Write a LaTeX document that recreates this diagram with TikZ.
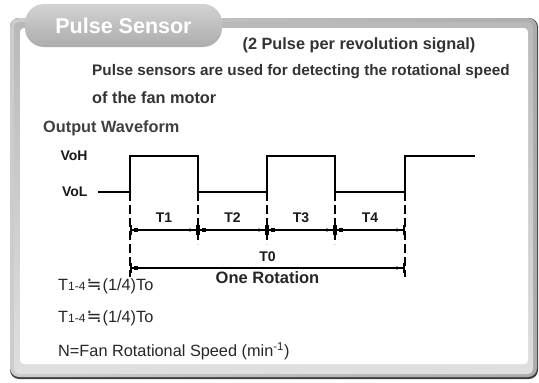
\documentclass[tikz,border=0pt]{standalone}
\usepackage{fontspec}
\setmainfont{Liberation Sans}
\newfontfamily\symfont{DejaVu Sans}
\usetikzlibrary{arrows.meta,positioning}

\tikzset{
  wave/.style={line width=2pt, line join=miter},
  guide/.style={line width=2pt, dash pattern=on 9pt off 4pt},
  span/.style={line width=1.4pt,
    {Bar[width=10pt,line width=2pt] Square[length=3.5pt,width=3.5pt,sep=2pt]}-{Latex[length=4.5pt,width=4pt,sep=2pt] Bar[width=10pt,line width=2pt]}},
  lbl/.style={font=\bfseries\fontsize{14}{16}\selectfont, text=black!90},
  head/.style={font=\bfseries\fontsize{16.3}{18}\selectfont, text=black!80},
  note/.style={font=\fontsize{16.3}{18}\selectfont, text=black!85, anchor=west, inner sep=0pt},
}
\newcommand{\approxrel}{T{\fontsize{12}{14}\selectfont 1-4}\kern1pt{\symfont\fontsize{18}{18}\selectfont\char"2252}\kern1pt(1/4)To}

\begin{document}
\begin{tikzpicture}[x=1pt,y=-1pt]
  \useasboundingbox (0,0) rectangle (539,383);
  % frame with bevelled border
  \fill[black!75, rounded corners=9pt] (10,18) rectangle (538,379);
  \shade[left color=gray!40, right color=gray!65, rounded corners=9pt] (10,18) rectangle (537,377);
  \shade[top color=gray!55, bottom color=gray!25, rounded corners=5pt] (14,22) rectangle (533,374);
  \fill[white, rounded corners=4pt] (20,28) rectangle (528,364);
  % title tab
  \node[shade, top color=gray!35, bottom color=gray!65, rounded corners=19pt,
        minimum width=197pt, minimum height=43pt, inner sep=0pt,
        font=\bfseries\fontsize{21.5}{24}\selectfont, text=white] (tab) at (123.5,25.5) {Pulse Sensor};

  % header texts
  \node[head] (sig) at (359,45) {(2 Pulse per revolution signal)};
  \node[head, font=\bfseries\fontsize{15.3}{18}\selectfont, anchor=west, inner sep=0pt] (use) at (92,72) {Pulse sensors are used for detecting the rotational speed};
  \node[head, anchor=west, inner sep=0pt] (fan) at (92,98) {of the fan motor};
  \node[font=\bfseries\fontsize{16.3}{18}\selectfont, text=black!75, anchor=west, inner sep=0pt] (out) at (43,128) {Output Waveform};

  % waveform corners
  \coordinate (s)  at (98,192);
  \coordinate (r1) at (130,192);
  \coordinate (f1) at (198,192);
  \coordinate (r2) at (267,192);
  \coordinate (f2) at (335,192);
  \coordinate (r3) at (405,192);
  \coordinate (e)  at (475,156);
  \coordinate (ya) at (0,230);
  \coordinate (yb) at (0,268);

  \node[lbl, anchor=east] (vol) at (91,192) {VoL};
  \node[lbl, anchor=east] (voh) at (91,156) {VoH};

  \draw[wave] (s) -- (r1) -- (r1 |- e) -- (f1 |- e) -- (f1) -- (r2) -- (r2 |- e)
    -- (f2 |- e) -- (f2) -- (r3) -- (r3 |- e) -- (e);

  % dashed guides
  \foreach \p in {f1,r2,f2} \draw[guide] (\p) -- ++(0,52);
  \foreach \p in {r1,r3} \draw[guide] (\p) -- ++(0,85);

  % periods
  \draw[span] (r1 |- ya) -- node[lbl, above=3pt] (t1) {T1} (f1 |- ya);
  \draw[span] (f1 |- ya) -- node[lbl, above=3pt] (t2) {T2} (r2 |- ya);
  \draw[span] (r2 |- ya) -- node[lbl, above=3pt] (t3) {T3} (f2 |- ya);
  \draw[span] (f2 |- ya) -- node[lbl, above=3pt] (t4) {T4} (r3 |- ya);
  \draw[span] (r1 |- yb) -- node[lbl, above=2pt] (t0) {T0}
    node[font=\bfseries\fontsize{16.5}{18}\selectfont, text=black!85, below=0pt] (rot) {One Rotation} (r3 |- yb);

  % notes
  \node[note] (n1) at (58,286) {\approxrel};
  \node[note] (n2) at (58,318) {\approxrel};
  \node[note] (n3) at (58,351) {N=Fan Rotational Speed (min\textsuperscript{-1})};
\end{tikzpicture}
\end{document}
